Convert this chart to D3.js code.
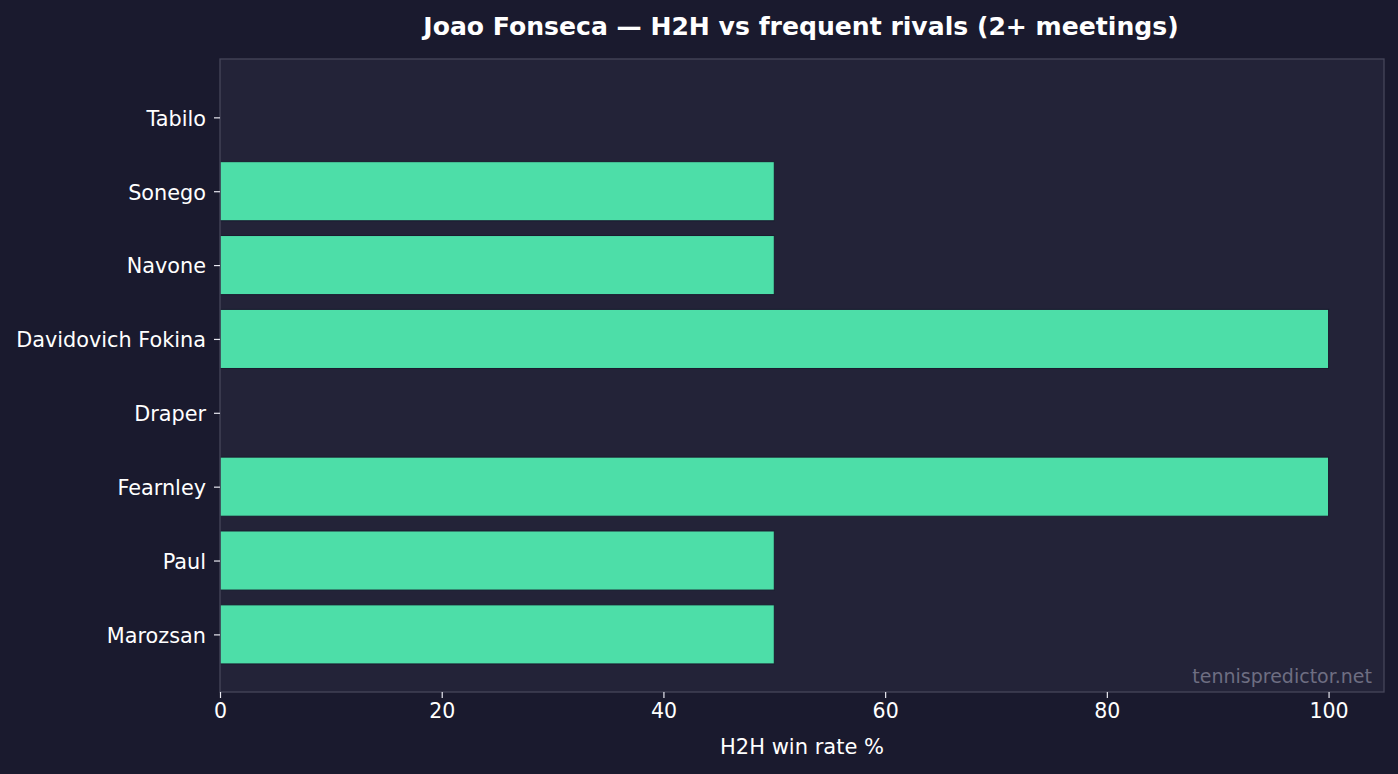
<!DOCTYPE html>
<html>
<head>
<meta charset="utf-8">
<script src="https://cdn.jsdelivr.net/npm/d3@7"></script>
<style>
  body { margin: 0; background: #1a1a2e; }
  svg { display: block; font-family: "DejaVu Sans", sans-serif; }
</style>
</head>
<body>
<svg id="chart"></svg>
<script>
// rivals listed bottom -> top as in the picture
const rivals = ['Marozsan', 'Paul', 'Fearnley', 'Draper', 'Davidovich Fokina', 'Navone', 'Sonego', 'Tabilo'];
const winRates = [50, 50, 100, 0, 100, 50, 50, 0];
const xTicks = [0, 20, 40, 60, 80, 100];

const width = 1398, height = 774;
const margin = {top: 59, right: 14, bottom: 82, left: 220};
const innerW = width - margin.left - margin.right;
const innerH = height - margin.top - margin.bottom;

const svg = d3.select('#chart').attr('width', width).attr('height', height);
svg.append('rect').attr('width', width).attr('height', height).attr('fill', '#1a1a2e');

const g = svg.append('g').attr('transform', `translate(${margin.left},${margin.top})`);

g.append('rect').attr('width', innerW).attr('height', innerH).attr('fill', '#232338');

const x = d3.scaleLinear().domain([0, 105]).range([0, innerW]);
// category positions 0..7 with matplotlib-like margins
const y = d3.scaleLinear().domain([-0.78, 7.79]).range([innerH, 0]);
const barH = y(0) - y(0.8);

const data = rivals.map((name, i) => ({name, i, value: winRates[i]}));

g.selectAll('.bar')
  .data(data)
  .join('rect')
  .attr('class', 'bar')
  .attr('x', x(0))
  .attr('y', d => y(d.i + 0.4))
  .attr('width', d => x(d.value) - x(0))
  .attr('height', barH)
  .attr('fill', '#4ddea8')
  .attr('stroke', '#1a1a2e')
  .attr('stroke-width', 1);

// frame
g.append('rect').attr('width', innerW).attr('height', innerH)
  .attr('fill', 'none').attr('stroke', '#46465a').attr('stroke-width', 1.3);

// x axis
const xAxis = g.append('g').attr('transform', `translate(0,${innerH})`)
  .call(d3.axisBottom(x).tickValues(xTicks).tickSize(6).tickPadding(4));
xAxis.select('.domain').remove();
xAxis.selectAll('line').attr('stroke', '#e8e8f0').attr('stroke-width', 1.2);
xAxis.selectAll('text').attr('fill', '#ffffff')
  .style('font-size', '20.5px').style('font-family', '"DejaVu Sans", sans-serif')
  .attr('dy', '0.78em');

// y axis
const yAxis = g.append('g')
  .call(d3.axisLeft(y).tickValues(d3.range(rivals.length)).tickFormat(i => rivals[i]).tickSize(6).tickPadding(8));
yAxis.select('.domain').remove();
yAxis.selectAll('line').attr('stroke', '#e8e8f0').attr('stroke-width', 1.2);
yAxis.selectAll('text').attr('fill', '#ffffff')
  .style('font-size', '20.8px').style('font-family', '"DejaVu Sans", sans-serif')
  .attr('dy', '0.38em');

// title
svg.append('text')
  .attr('x', margin.left + innerW / 2 - 1).attr('y', 35)
  .attr('text-anchor', 'middle')
  .attr('fill', '#ffffff').style('font-size', '25.1px').attr('font-weight', 'bold')
  .text('Joao Fonseca — H2H vs frequent rivals (2+ meetings)');

// x label
svg.append('text')
  .attr('x', margin.left + innerW / 2).attr('y', 754)
  .attr('text-anchor', 'middle')
  .attr('fill', '#ffffff').style('font-size', '21px')
  .text('H2H win rate %');

// watermark
g.append('text')
  .attr('x', innerW - 12).attr('y', innerH - 9)
  .attr('text-anchor', 'end')
  .attr('fill', '#6e6e82').style('font-size', '19px')
  .text('tennispredictor.net');
</script>
</body>
</html>
